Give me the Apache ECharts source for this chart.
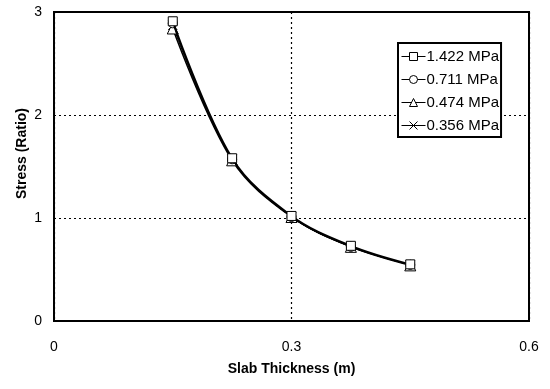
<!DOCTYPE html>
<html><head><meta charset="utf-8">
<script src="https://cdn.jsdelivr.net/npm/echarts@6/dist/echarts.min.js"></script>
<style>html,body{margin:0;padding:0;background:#fff}#c{width:550px;height:389px}</style>
</head><body><div id="c"></div>
<script>
const thickness = [0.15, 0.225, 0.3, 0.375, 0.45];
const seriesNames = ['1.422 MPa', '0.711 MPa', '0.474 MPa', '0.356 MPa'];
const s1422 = [2.91, 1.58, 1.02, 0.73, 0.55];
const s0711 = [2.89, 1.57, 1.01, 0.72, 0.545];
const s0474 = [2.84, 1.56, 1.01, 0.72, 0.54];
const s0356 = [2.87, 1.57, 1.01, 0.72, 0.545];
const xTicks = [0, 0.3, 0.6];
const yTicks = [0, 1, 2, 3];

const allValues = [s1422, s0711, s0474, s0356];
const symbols = ['rect', 'circle', 'triangle', 'path://M0,0L10,10M10,0L0,10'];
const widths = [2, 1, 1.5, 1];
const font = 'Liberation Sans, Arial, sans-serif';

const chart = echarts.init(document.getElementById('c'));
chart.setOption({
  animation: false,
  backgroundColor: '#fff',
  grid: { left: 54, right: 21, top: 12, bottom: 68, show: true, borderColor: '#000', borderWidth: 2, backgroundColor: 'transparent' },
  xAxis: {
    type: 'value', min: 0, max: 0.6, interval: 0.3,
    name: 'Slab Thickness (m)', nameLocation: 'middle', nameGap: 41, nameMoveOverlap: false,
    nameTextStyle: { fontFamily: font, fontWeight: 'bold', fontSize: 14, color: '#000' },
    axisLine: { show: true, lineStyle: { color: '#000', width: 2 } },
    axisTick: { show: false },
    axisLabel: { fontFamily: font, fontSize: 14, color: '#000', margin: 19, formatter: v => xTicks.includes(+v.toFixed(2)) ? String(+v.toFixed(2)) : '' },
    splitLine: { show: true, lineStyle: { color: '#000', type: [2, 3], width: 1.2 } }
  },
  yAxis: {
    type: 'value', min: 0, max: 3, interval: 1,
    name: 'Stress (Ratio)', nameLocation: 'middle', nameGap: 25, nameMoveOverlap: false,
    nameTextStyle: { fontFamily: font, fontWeight: 'bold', fontSize: 14, color: '#000', padding: [0, 0, 0, 26] },
    axisLine: { show: true, lineStyle: { color: '#000', width: 2 } },
    axisTick: { show: false },
    axisLabel: { fontFamily: font, fontSize: 14, color: '#000', margin: 12, formatter: v => yTicks.includes(v) ? String(v) : '' },
    splitLine: { show: true, lineStyle: { color: '#000', type: [2, 3], width: 1.2 } }
  },
  legend: {
    orient: 'vertical', left: 398, top: 43,
    padding: [6, 2, 4, 3], itemGap: 8, itemWidth: 24, itemHeight: 10,
    backgroundColor: '#fff', borderColor: '#000', borderWidth: 2, borderRadius: 0,
    lineStyle: { width: 1 },
    itemStyle: { borderWidth: 1 },
    textStyle: { fontFamily: font, fontSize: 15, color: '#000', padding: [0, 0, 0, -4] },
    data: seriesNames
  },
  series: seriesNames.map((n, i) => ({
    name: n, type: 'line', smooth: 0.35,
    data: thickness.map((x, j) => [x, allValues[i][j]]),
    symbol: symbols[i], symbolSize: i === 2 ? 11 : 9,
    lineStyle: { color: '#000', width: widths[i] },
    itemStyle: { color: i === 3 ? '#000' : '#fff', borderColor: '#000', borderWidth: 1 },
    z: 4 - i
  }))
});
</script></body></html>
